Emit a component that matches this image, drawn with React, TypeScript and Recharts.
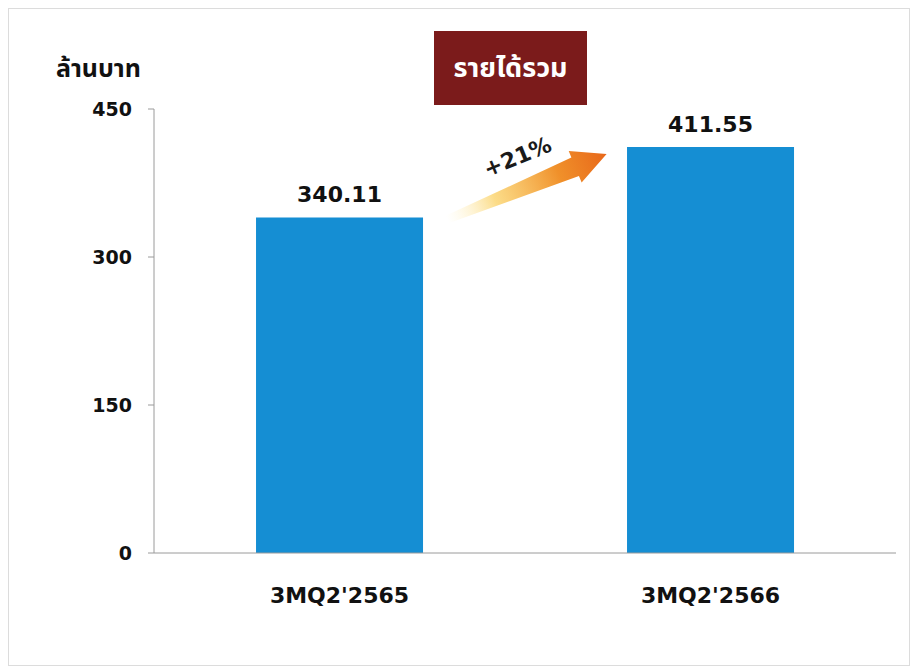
import React from "react";
import { BarChart, Bar, XAxis, YAxis, LabelList, ReferenceLine } from "recharts";

const periods = ["3MQ2'2565", "3MQ2'2566"];
const revenue = [340.11, 411.55];
const yTicks = [0, 150, 300, 450];
const growthLabel = "+21%";
const unitLabel = "ล้านบาท";
const titleText = "รายได้รวม";

const data = periods.map((p, i) => ({ period: p, revenue: revenue[i] }));

const FONT = "Tahoma, 'DejaVu Sans', 'Noto Sans', sans-serif";
const THAI_FONT = "Tahoma, 'Noto Sans Thai', Loma, Garuda, 'DejaVu Sans', sans-serif";
const BAR_COLOR = "#158ed3";

// arrow between the two bar tops, drawn from the reference segment end points
function GrowthArrow(props: any) {
  const { x1, y1, x2, y2 } = props;
  const dx = x2 - x1;
  const tx = x1 + 0.29 * dx, ty = y1 + 2;
  const px = x2 - 0.28 * dx, py = y2 + 7;
  const len = Math.hypot(px - tx, py - ty);
  const ux = (px - tx) / len, uy = (py - ty) / len;
  const nx = -uy, ny = ux; // points below the arrow
  const headLen = 34, headW = 17, shaftW = 10, tailW = 4;
  const bx = px - ux * headLen, by = py - uy * headLen;
  const pts = [
    [tx + nx * tailW, ty + ny * tailW],
    [bx + nx * shaftW, by + ny * shaftW],
    [bx + nx * headW, by + ny * headW],
    [px, py],
    [bx - nx * headW, by - ny * headW],
    [bx - nx * shaftW, by - ny * shaftW],
    [tx - nx * tailW, ty - ny * tailW],
  ].map((p) => p.join(",")).join(" ");
  const mx = (tx + px) / 2 - 30 * nx + 2, my = (ty + py) / 2 - 30 * ny - 2;
  const angle = (Math.atan2(uy, ux) * 180) / Math.PI;
  return (
    <g>
      <defs>
        <linearGradient id="gArrow" gradientUnits="userSpaceOnUse" x1={tx} y1={ty} x2={px} y2={py}>
          <stop offset="0%" stopColor="#fff4c8" stopOpacity={0} />
          <stop offset="30%" stopColor="#fbd36a" stopOpacity={0.8} />
          <stop offset="70%" stopColor="#f0902a" />
          <stop offset="100%" stopColor="#e8681a" />
        </linearGradient>
      </defs>
      <polygon points={pts} fill="url(#gArrow)" />
      <text
        x={mx}
        y={my}
        transform={`rotate(${angle} ${mx} ${my})`}
        textAnchor="middle"
        dominantBaseline="central"
        fontFamily={FONT}
        fontWeight="bold"
        fontSize={22}
        fill="#1a1a1a"
      >
        {growthLabel}
      </text>
    </g>
  );
}

export default function App() {
  return (
    <div style={{ position: "absolute", left: 0, top: 0, width: 913, height: 670, background: "#fff" }}>
      <div style={{ position: "absolute", left: 8, top: 8, width: 900, height: 656, border: "1px solid #dcdcdc" }} />
      <BarChart
        width={913}
        height={670}
        data={data}
        margin={{ top: 109, right: 17, left: 0, bottom: 0 }}
        barCategoryGap="27.5%"
      >
        <YAxis
          width={154}
          domain={[0, 450]}
          ticks={yTicks}
          interval={0}
          axisLine={{ stroke: "#9a9a9a" }}
          tickLine={{ stroke: "#9a9a9a" }}
          tickSize={6}
          tickMargin={16}
          tick={{ fill: "#111", fontSize: 19, fontWeight: "bold", fontFamily: FONT }}
        />
        <XAxis
          dataKey="period"
          height={117}
          axisLine={{ stroke: "#9a9a9a" }}
          tickLine={false}
          tickMargin={28}
          tick={{ fill: "#111", fontSize: 22, fontWeight: "bold", fontFamily: FONT }}
        />
        <Bar dataKey="revenue" fill={BAR_COLOR} isAnimationActive={false}>
          <LabelList
            dataKey="revenue"
            position="top"
            offset={15}
            formatter={(v: any) => Number(v).toFixed(2)}
            style={{ fill: "#111", fontSize: 22, fontWeight: "bold", fontFamily: FONT }}
          />
        </Bar>
        <ReferenceLine
          segment={[
            { x: periods[0], y: revenue[0] },
            { x: periods[1], y: revenue[1] },
          ]}
          shape={GrowthArrow}
        />
      </BarChart>
      <div
        style={{
          position: "absolute", left: 56, top: 50, fontFamily: THAI_FONT, fontWeight: "bold",
          fontSize: 25, color: "#111",
        }}
      >
        {unitLabel}
      </div>
      <div
        style={{
          position: "absolute", left: 434, top: 31, width: 153, height: 74, background: "#7b1b1b",
          color: "#fff", fontFamily: THAI_FONT, fontWeight: "bold", fontSize: 27,
          display: "flex", alignItems: "center", justifyContent: "center",
        }}
      >
        {titleText}
      </div>
    </div>
  );
}
